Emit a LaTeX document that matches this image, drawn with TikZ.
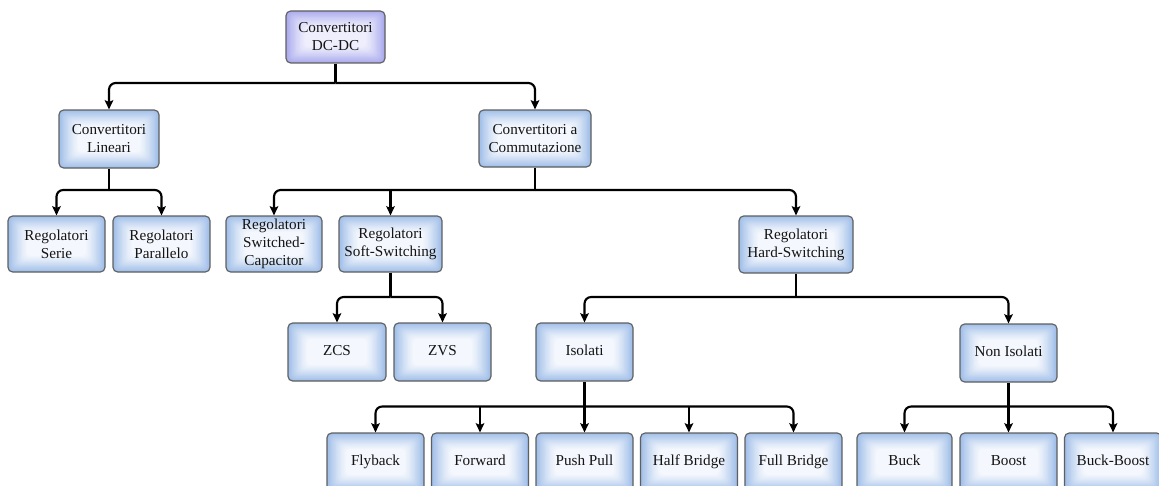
\documentclass[tikz,border=0pt]{standalone}
\usepackage{fontspec}
\setmainfont{Liberation Serif}
\usetikzlibrary{arrows.meta,calc}
\definecolor{bluebox}{RGB}{160,190,232}
\definecolor{bluein}{RGB}{246,249,254}
\definecolor{lavbox}{RGB}{170,170,238}
\definecolor{lavin}{RGB}{240,240,253}
\definecolor{boxline}{RGB}{95,95,95}
\definecolor{txt}{RGB}{20,20,20}
\begin{document}
\begin{tikzpicture}[x=0.75pt,y=-0.75pt,
  glow/.style 2 args={path picture={
    \foreach \i in {0,...,15}{
      \pgfmathsetmacro\p{100*(1-\i/16)^1.3}
      \fill[#1!\p!#2, rounded corners=3pt]
        ($(path picture bounding box.south west)+(\i*0.95pt,\i*0.8pt)$)
        rectangle
        ($(path picture bounding box.north east)-(\i*0.95pt,\i*0.8pt)$);
    }}},
  box/.style={draw=boxline, line width=0.85pt, rounded corners=3.5pt,
    fill=bluein, glow={bluebox}{bluein},
    align=center, inner sep=0pt, text=txt,
    font=\fontsize{11.4}{13.5}\selectfont},
  lav/.style={fill=lavin, glow={lavbox}{lavin}},
  one/.style={text height=7.6pt, text depth=2.4pt},
  stem/.style={line width=1.6pt},
  conn/.style={line width=1.6pt, rounded corners=5pt,
    -{Stealth[length=7pt,width=6.5pt,inset=1.5pt]}}]
\useasboundingbox (0,0) rectangle (1159,485);
\clip (0,0) rectangle (1159,485);
% bus levels
\coordinate (b0) at (0,83);
\coordinate (b1) at (0,190);
\coordinate (b2) at (0,297);
\coordinate (b3) at (0,406.5);
% nodes
\node[box, lav, minimum width=74.25pt, minimum height=39pt] (root) at (335.5,37) {Convertitori\\DC-DC};
\node[box, minimum width=75pt, minimum height=43.5pt] (lin) at (109,139) {Convertitori\\Lineari};
\node[box, minimum width=84pt, minimum height=42.75pt] (comm) at (535,138.5) {Convertitori a\\Commutazione};
\node[box, minimum width=72.75pt, minimum height=42pt] (serie) at (56.5,244) {Regolatori\\Serie};
\node[box, minimum width=72.75pt, minimum height=42pt] (par) at (161.5,244) {Regolatori\\Parallelo};
\node[box, minimum width=72pt, minimum height=42pt] (sc) at (274,244) {Regolatori\\Switched-\\Capacitor};
\node[box, minimum width=77.25pt, minimum height=42pt] (soft) at (390.5,244) {Regolatori\\Soft-Switching};
\node[box, minimum width=85.5pt, minimum height=42.75pt] (hard) at (796,244.5) {Regolatori\\Hard-Switching};
\node[box, one, minimum width=73.5pt, minimum height=43.5pt] (zcs) at (337,352) {ZCS};
\node[box, one, minimum width=72.75pt, minimum height=43.5pt] (zvs) at (442.5,352) {ZVS};
\node[box, one, minimum width=72.75pt, minimum height=43.5pt] (iso) at (584.5,352) {Isolati};
\node[box, one, minimum width=72.75pt, minimum height=43.5pt] (noniso) at (1008.5,353) {Non Isolati};
\node[box, one, minimum width=72.75pt, minimum height=43.5pt] (fly) at (375.5,462) {Flyback};
\node[box, one, minimum width=72.75pt, minimum height=43.5pt] (fwd) at (480,462) {Forward};
\node[box, one, minimum width=72.75pt, minimum height=43.5pt] (pp) at (584.5,462) {Push Pull};
\node[box, one, minimum width=72.75pt, minimum height=43.5pt] (hb) at (689,462) {Half Bridge};
\node[box, one, minimum width=72.75pt, minimum height=43.5pt] (fb) at (793.5,462) {Full Bridge};
\node[box, one, minimum width=71.25pt, minimum height=43.5pt] (buck) at (904.5,462) {Buck};
\node[box, one, minimum width=72.75pt, minimum height=43.5pt] (boost) at (1008.5,462) {Boost};
\node[box, one, minimum width=72.75pt, minimum height=43.5pt] (bb) at (1113,462) {Buck-Boost};
% root
\draw[stem] (root.south) -- (root.south |- b0);
\draw[conn] (root.south |- b0) -| (lin.north);
\draw[conn] (root.south |- b0) -| (comm.north);
% lineari
\draw[stem] (lin.south) -- (lin.south |- b1);
\draw[conn] (lin.south |- b1) -| (serie.north);
\draw[conn] (lin.south |- b1) -| (par.north);
% commutazione
\draw[stem] (comm.south) -- (comm.south |- b1);
\draw[conn] (comm.south |- b1) -| (sc.north);
\draw[conn] (soft.north |- b1) -- (soft.north);
\draw[conn] (comm.south |- b1) -| (hard.north);
% soft switching
\draw[stem] (soft.south) -- (soft.south |- b2);
\draw[conn] (soft.south |- b2) -| (zcs.north);
\draw[conn] (soft.south |- b2) -| (zvs.north);
% hard switching
\draw[stem] (hard.south) -- (hard.south |- b2);
\draw[conn] (hard.south |- b2) -| (iso.north);
\draw[conn] (hard.south |- b2) -| (noniso.north);
% isolati
\draw[conn] (iso.south) -- (pp.north);
\draw[conn] (iso.south |- b3) -| (fly.north);
\draw[conn] (fwd.north |- b3) -- (fwd.north);
\draw[conn] (hb.north |- b3) -- (hb.north);
\draw[conn] (iso.south |- b3) -| (fb.north);
% non isolati
\draw[conn] (noniso.south) -- (boost.north);
\draw[conn] (noniso.south |- b3) -| (buck.north);
\draw[conn] (noniso.south |- b3) -| (bb.north);
\end{tikzpicture}
\end{document}
